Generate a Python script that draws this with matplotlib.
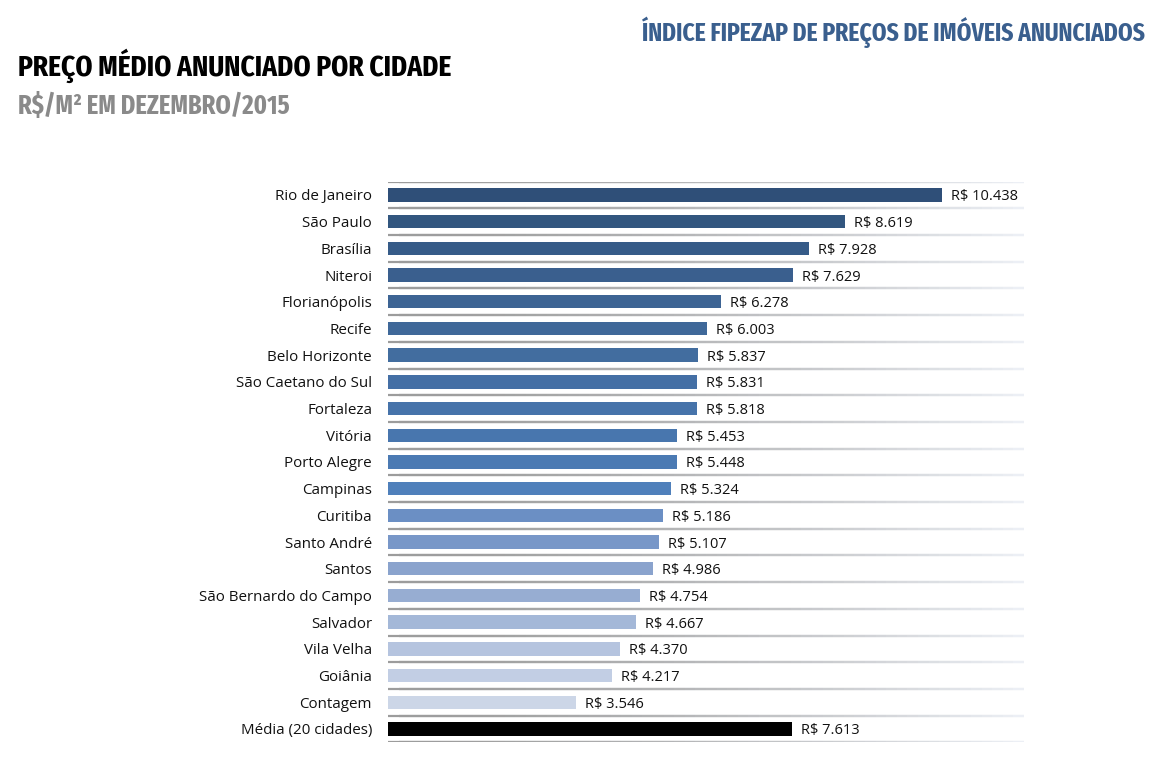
import numpy as np
import matplotlib
matplotlib.use('agg')
import matplotlib.pyplot as plt
from matplotlib import font_manager
from matplotlib.collections import LineCollection
from matplotlib.colors import to_rgb

cidades = ['Rio de Janeiro', 'São Paulo', 'Brasília', 'Niteroi', 'Florianópolis',
           'Recife', 'Belo Horizonte', 'São Caetano do Sul', 'Fortaleza', 'Vitória',
           'Porto Alegre', 'Campinas', 'Curitiba', 'Santo André', 'Santos',
           'São Bernardo do Campo', 'Salvador', 'Vila Velha', 'Goiânia', 'Contagem',
           'Média (20 cidades)']
precos = [10438, 8619, 7928, 7629, 6278, 6003, 5837, 5831, 5818, 5453,
          5448, 5324, 5186, 5107, 4986, 4754, 4667, 4370, 4217, 3546, 7613]

cores = ['#2f4f78', '#32567f', '#365b88', '#3a5f8e', '#3d6494', '#3f6899',
         '#426d9f', '#446fa5', '#4673aa', '#4876ae', '#4b7ab3', '#4f80bb',
         '#6b8fc4', '#7897c8', '#8aa3cd', '#97add2', '#a4b8d8', '#b5c4df',
         '#c2cee4', '#ccd6e7', '#000000']

# narrow bold font for the headings (falls back to DejaVu Sans Bold)
def wt(f):
    w = f.weight
    if isinstance(w, str):
        w = {'bold': 700, 'heavy': 800, 'black': 900, 'semibold': 600,
             'demibold': 600, 'medium': 500}.get(w, 400)
    return w

narrow = [f for f in font_manager.fontManager.ttflist
          if any(k in f.name for k in ('Condensed', 'Narrow'))
          and 'italic' not in f.style and 'oblique' not in f.style]
narrow.sort(key=lambda f: (abs(wt(f) - 700), 'Extra' not in f.name))
if narrow:
    head_fp = font_manager.FontProperties(fname=narrow[0].fname)
else:
    head_fp = font_manager.FontProperties(family='DejaVu Sans', weight='bold')

W, H = 1161, 758
fig = plt.figure(figsize=(W / 100, H / 100), dpi=100)
ax = fig.add_axes([388 / W, 1 - 742.3 / H, (1024 - 388) / W, (742.3 - 181.6) / H])

y = np.arange(len(cidades))
ax.barh(y, precos, height=0.5, color=cores)
ax.set_ylim(len(cidades) - 0.5, -0.5)
ax.set_xlim(0, 11984)

txt_font = ['Open Sans', 'DejaVu Sans']
for yi, v in zip(y, precos):
    ax.text(v + 170, yi, 'R$ ' + f'{v:,}'.replace(',', '.'), va='center_baseline', ha='left',
            fontsize=10.5, family=txt_font, color='#111111')

ax.set_yticks(y)
ax.set_yticklabels(cidades, family=txt_font, fontsize=10.9, color='#111111')
ax.tick_params(axis='y', length=0, pad=11.5)
ax.set_xticks([])
for s in ax.spines.values():
    s.set_visible(False)

# separator lines fading to the right
n = 60
xs = np.linspace(0, 11984, n + 1)
c0 = np.array(to_rgb('#9c9c9c'))
c1 = np.array(to_rgb('#eef1f7'))
segs, cols = [], []
for yl in np.arange(-0.5, len(cidades), 1.0):
    for k in range(n):
        segs.append([(xs[k], yl), (xs[min(k + 2, n)], yl)])
        t = (k / n) ** 1.5
        cols.append(c0 * (1 - t) + c1 * t)
ax.add_collection(LineCollection(segs, colors=cols, linewidths=1.6, zorder=0,
                                 capstyle='butt'))

# headings, sized to the reference widths
r = fig.canvas.get_renderer()
def heading(x, yc, s, color, width, ha, cap):
    t = fig.text(x / W, 1 - yc / H, s, fontproperties=head_fp,
                 color=color, va='center', ha=ha)
    t.set_fontsize(20)
    w = t.get_window_extent(r).width
    t.set_fontsize(min(20 * width / w, cap))
    return t

heading(18, 66, 'PREÇO MÉDIO ANUNCIADO POR CIDADE', '#000000', 432, 'left', 27)
heading(18, 106, 'R$/M² EM DEZEMBRO/2015', '#8a8a8a', 272, 'left', 23)
heading(1145, 32, 'ÍNDICE FIPEZAP DE PREÇOS DE IMÓVEIS ANUNCIADOS', '#3a5f8e', 503, 'right', 23)

fig.savefig('out.png', dpi=100)
